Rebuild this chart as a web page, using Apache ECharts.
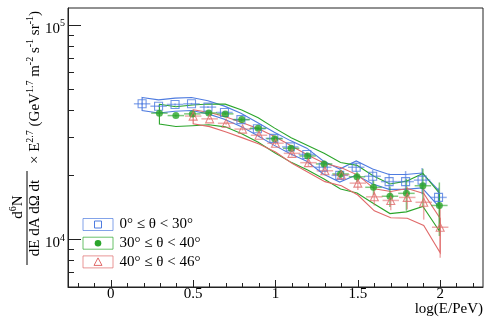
<!DOCTYPE html>
<html>
<head>
<meta charset="utf-8">
<script src="https://cdn.jsdelivr.net/npm/echarts@6/dist/echarts.min.js"></script>
<style>
  html, body { margin: 0; padding: 0; background: #fff; }
  #chart { width: 498px; height: 329px; }
</style>
</head>
<body>
<div id="chart"></div>
<script>
// zenith angle bins
const zenithBins = ['0° ≤ θ < 30°', '30° ≤ θ < 40°', '40° ≤ θ < 46°'];

// log10(E/PeV) of each point
const logE1 = [0.19, 0.29, 0.39, 0.49, 0.59, 0.69, 0.79, 0.89, 0.99, 1.09, 1.19, 1.29, 1.39, 1.49, 1.59, 1.69, 1.79, 1.89, 1.99];
const logE2 = [0.295, 0.395, 0.495, 0.595, 0.695, 0.795, 0.895, 0.995, 1.095, 1.195, 1.295, 1.395, 1.495, 1.595, 1.695, 1.795, 1.895, 1.995];
const logE3 = [0.5, 0.6, 0.7, 0.8, 0.9, 1.0, 1.1, 1.2, 1.3, 1.4, 1.5, 1.6, 1.7, 1.8, 1.9, 2.0];
const binHalfWidth = 0.05;

// flux x E^2.7
const flux1 = [42900, 41800, 42600, 42900, 41400, 39100, 36200, 32800, 29600, 27000, 24900, 21700, 19900, 21700, 19700, 18600, 18600, 18900, 15700];
const flux2 = [38800, 37800, 38500, 38900, 38500, 36200, 33000, 29500, 26600, 24500, 22500, 20200, 19600, 17500, 15900, 16400, 17800, 14400];
const flux3 = [37600, 36500, 34800, 32700, 30600, 28100, 25200, 22800, 20900, 20000, 18300, 15800, 15200, 15700, 14900, 11400];

// statistical errors (%)
const stat1 = [1, 1, 1, 1, 1, 1, 1, 1.5, 1.5, 2, 2, 3, 4, 5, 7, 9, 12, 14, 11];
const stat2 = [1, 1, 1, 1, 1, 1.5, 1.5, 2, 2, 3, 3.5, 4.5, 5.5, 8, 11, 17, 20, 28];
const stat3 = [1, 1, 1.5, 1.5, 2, 2, 3, 3.5, 4.5, 5.5, 7, 9, 10, 12, 17, 28];

// systematic band, upper / lower (%)
const sysUp1 = [7, 7, 7, 7, 7, 7, 7, 7, 7, 7, 7, 7, 7, 7, 8, 8, 8, 8, 8];
const sysLo1 = [7, 7, 7, 7, 7, 7, 7, 7, 7, 7, 7, 7, 7, 8, 8, 8, 8, 8, 9];
const sysUp2 = [10, 10, 10, 10, 11, 11, 12, 12, 12, 12, 12, 13, 13, 13, 14, 14, 14, 14];
const sysLo2 = [11, 11, 12, 12, 13, 14, 14, 14, 14, 14, 15, 15, 16, 16, 17, 18, 20, 24];
const sysUp3 = [7, 7, 7, 7, 7, 7, 8, 8, 8, 8, 9, 9, 10, 10, 10, 10];
const sysLo3 = [8, 8, 9, 9, 9, 9, 10, 10, 11, 11, 12, 14, 17, 20, 22, 24];

// axis ticks
const xMajorTicks = [0, 0.5, 1, 1.5, 2];
const xMinorTicks = [-0.2, -0.1, 0.1, 0.2, 0.3, 0.4, 0.6, 0.7, 0.8, 0.9, 1.1, 1.2, 1.3, 1.4, 1.6, 1.7, 1.8, 1.9, 2.1, 2.2];
const yMajorTicks = [10000, 100000];
const yMinorTicks = [6000, 7000, 8000, 9000, 20000, 30000, 40000, 50000, 60000, 70000, 80000, 90000];

const blue = '#4f7ce0';
const green = '#2aa52a';
const red = '#e06a6a';
const font = 'Liberation Serif';

function errRender(color) {
  return function (params, api) {
    const x = api.value(0), y = api.value(1), e = api.value(2) / 100;
    const top = api.coord([x, y * (1 + e)]);
    const bot = api.coord([x, y * (1 - e)]);
    const l = api.coord([x - binHalfWidth, y]);
    const r = api.coord([x + binHalfWidth, y]);
    return {
      type: 'group',
      children: [
        { type: 'line', shape: { x1: top[0], y1: top[1], x2: bot[0], y2: bot[1] }, style: { stroke: color, lineWidth: 1.5 } },
        { type: 'line', shape: { x1: l[0], y1: l[1], x2: r[0], y2: r[1] }, style: { stroke: color, lineWidth: 1.5 } }
      ]
    };
  };
}

function bandRender(xs, ys, up, lo, color) {
  return function (params, api) {
    if (params.dataIndex !== 0) return;
    const pts = [];
    for (let i = 0; i < xs.length; i++) pts.push(api.coord([xs[i], ys[i] * (1 + up[i] / 100)]));
    for (let i = xs.length - 1; i >= 0; i--) pts.push(api.coord([xs[i], ys[i] * (1 - lo[i] / 100)]));
    return { type: 'polygon', shape: { points: pts }, style: { fill: 'none', stroke: color, lineWidth: 1.1 } };
  };
}

function pairs(xs, ys, extra) {
  return xs.map((x, i) => extra ? [x, ys[i], extra[i]] : [x, ys[i]]);
}

const groups = [
  { x: logE1, y: flux1, stat: stat1, up: sysUp1, lo: sysLo1, color: blue, errColor: 'rgba(79,124,224,0.6)', symbol: 'rect', size: 8, fill: 'transparent' },
  { x: logE2, y: flux2, stat: stat2, up: sysUp2, lo: sysLo2, color: green, errColor: 'rgba(42,165,42,0.6)', symbol: 'circle', size: 7, fill: green },
  { x: logE3, y: flux3, stat: stat3, up: sysUp3, lo: sysLo3, color: red, errColor: 'rgba(224,106,106,0.55)', symbol: 'triangle', size: 8, fill: 'transparent' }
];

const series = [];
groups.forEach((g, k) => {
  series.push({
    type: 'custom', name: zenithBins[k] + ' sys', xAxisIndex: 0, yAxisIndex: 0, z: 1, silent: true,
    data: pairs(g.x, g.y), renderItem: bandRender(g.x, g.y, g.up, g.lo, g.color)
  });
});
groups.forEach((g, k) => {
  series.push({
    type: 'custom', name: zenithBins[k] + ' stat', xAxisIndex: 0, yAxisIndex: 0, z: 2, silent: true,
    data: pairs(g.x, g.y, g.stat), renderItem: errRender(g.errColor)
  });
});
groups.forEach((g, k) => {
  series.push({
    type: 'scatter', name: zenithBins[k], xAxisIndex: 0, yAxisIndex: 0, z: 3,
    symbol: g.symbol, symbolSize: g.size,
    itemStyle: { color: g.fill, borderColor: g.color, borderWidth: g.fill === 'transparent' ? 1.1 : 0 },
    data: pairs(g.x, g.y)
  });
});

// legend drawn by hand like the ROOT TLegend
const legendItems = [];
groups.forEach((g, k) => {
  const cy = 224.5 + k * 18.7;
  legendItems.push({ type: 'rect', shape: { x: 83, y: cy - 6, width: 30, height: 12 }, style: { fill: 'none', stroke: g.color, lineWidth: 1, opacity: 0.7 } });
  if (g.symbol === 'rect') {
    legendItems.push({ type: 'rect', shape: { x: 94.5, y: cy - 3.5, width: 7, height: 7 }, style: { fill: 'none', stroke: g.color, lineWidth: 1 } });
  } else if (g.symbol === 'circle') {
    legendItems.push({ type: 'circle', shape: { cx: 98, cy: cy, r: 3.3 }, style: { fill: g.color } });
  } else {
    legendItems.push({ type: 'polygon', shape: { points: [[98, cy - 4], [102, cy + 3.5], [94, cy + 3.5]] }, style: { fill: 'none', stroke: g.color, lineWidth: 1 } });
  }
  legendItems.push({ type: 'text', x: 119.5, y: cy, style: { text: zenithBins[k], fontFamily: font, fontSize: 15, fill: '#000', align: 'left', verticalAlign: 'middle' } });
});

const supRich = {
  b: { fontFamily: font, fontSize: 15, lineHeight: 18, verticalAlign: 'bottom' },
  s: { fontFamily: font, fontSize: 10, lineHeight: 18, verticalAlign: 'top' }
};

const chart = echarts.init(document.getElementById('chart'), null, { renderer: 'canvas' });
chart.setOption({
  animation: false,
  backgroundColor: '#fff',
  grid: { left: 68, right: 15, top: 8, bottom: 42, show: true, borderColor: '#222', borderWidth: 1, backgroundColor: 'transparent' },
  xAxis: [
    {
      type: 'value', position: 'bottom', min: -0.26, max: 2.26,
      name: 'log(E/PeV)', nameLocation: 'end', nameGap: 0,
      nameTextStyle: { fontFamily: font, fontSize: 15, color: '#000', align: 'right', verticalAlign: 'top', padding: [15, 0, 0, 0] },
      axisLine: { onZero: false, lineStyle: { color: '#222' } },
      axisTick: { inside: true, length: 7, customValues: xMajorTicks, lineStyle: { color: '#222' } },
      axisLabel: { customValues: xMajorTicks, fontFamily: font, fontSize: 15, color: '#000', margin: 0 },
      splitLine: { show: false }
    },
    {
      type: 'value', position: 'bottom', min: -0.26, max: 2.26,
      axisLine: { show: false, onZero: false },
      axisTick: { inside: true, length: 4, customValues: xMinorTicks, lineStyle: { color: '#222' } },
      axisLabel: { show: false },
      splitLine: { show: false }
    }
  ],
  yAxis: [
    {
      type: 'log', logBase: 10, position: 'left', min: 6000, max: 120000,
      axisLine: { show: true, onZero: false, lineStyle: { color: '#222' } },
      axisTick: { show: true, inside: true, length: 13, customValues: yMajorTicks, lineStyle: { color: '#222' } },
      axisLabel: {
        customValues: yMajorTicks, margin: 3, color: '#000', padding: [5, 0, 0, 0],
        formatter: v => '{b|10}{s|' + Math.round(Math.log10(v)) + '}',
        rich: supRich
      },
      splitLine: { show: false }
    },
    {
      type: 'log', logBase: 10, position: 'left', min: 6000, max: 120000,
      axisLine: { show: false, onZero: false },
      axisTick: { show: true, inside: true, length: 6, customValues: yMinorTicks, lineStyle: { color: '#222' } },
      axisLabel: { show: false },
      splitLine: { show: false }
    }
  ],
  graphic: [
    {
      type: 'group', x: 27, y: 218, rotation: Math.PI / 2,
      children: [
        { type: 'text', x: 11, y: -1, style: { text: '{b|d}{s|6}{b|N}', rich: supRich, align: 'center', verticalAlign: 'bottom', fill: '#000' } },
        { type: 'line', shape: { x1: -47, y1: 0, x2: 47, y2: 0 }, style: { stroke: '#000', lineWidth: 1 } },
        { type: 'text', x: 0, y: 1, style: { text: 'dE dA dΩ dt', fontFamily: font, fontSize: 15, align: 'center', verticalAlign: 'top', fill: '#000' } },
        { type: 'text', x: 54, y: 7, style: { text: '{b|× E}{s|2.7}{b| (GeV}{s|1.7}{b| m}{s|-2}{b| s}{s|-1}{b| sr}{s|-1}{b|)}', rich: supRich, align: 'left', verticalAlign: 'middle', fill: '#000' } }
      ]
    },
    { type: 'group', children: legendItems }
  ],
  series: series
});
</script>
</body>
</html>
